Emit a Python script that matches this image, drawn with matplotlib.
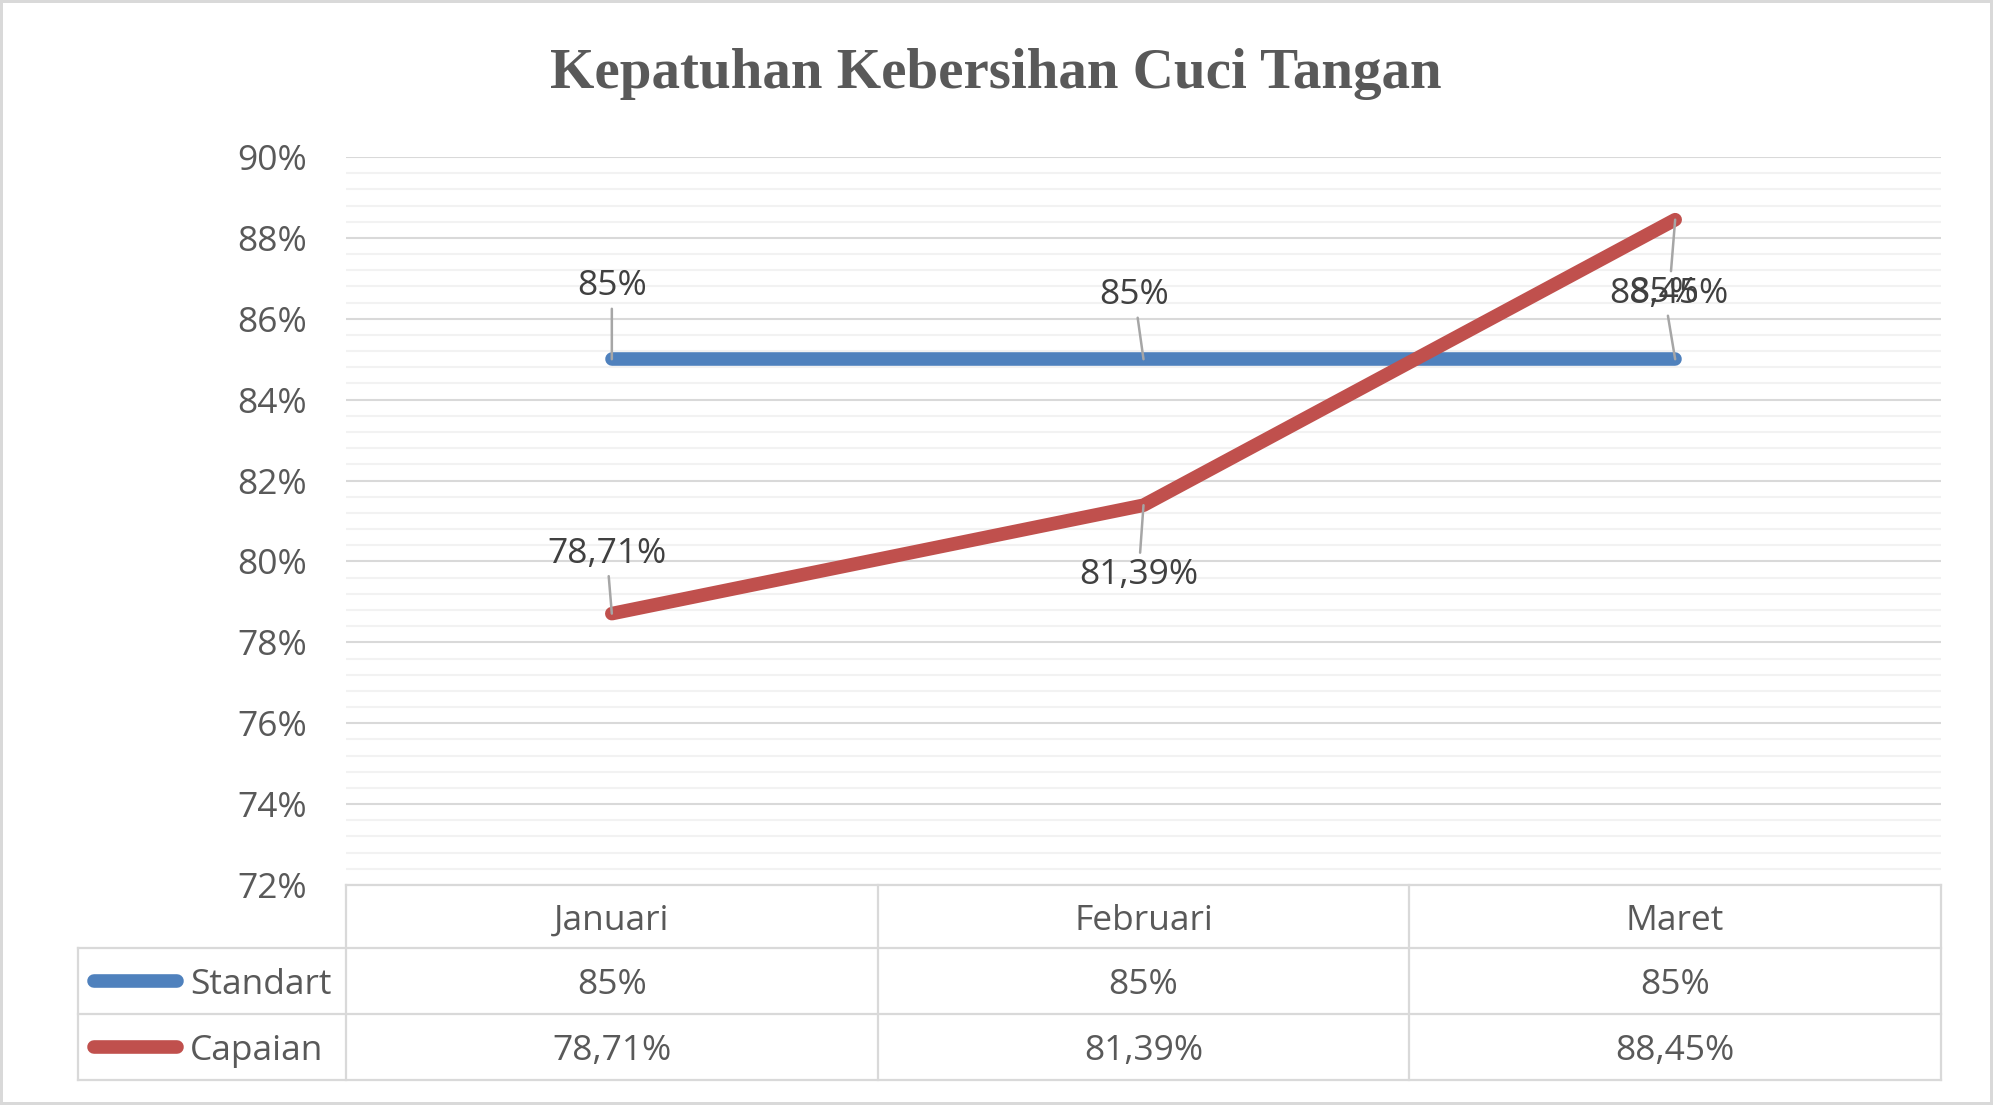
import matplotlib
matplotlib.use("Agg")
import matplotlib.pyplot as plt
from matplotlib.lines import Line2D
from matplotlib.patches import Rectangle
from matplotlib.ticker import FuncFormatter, MultipleLocator
import matplotlib.transforms as mtransforms

# Data
months = ["Januari", "Februari", "Maret"]
series_names = ["Standart", "Capaian"]
standart = [85, 85, 85]
capaian = [78.71, 81.39, 88.45]
title = "Kepatuhan Kebersihan Cuci Tangan"

colours = {"Standart": "#4F81BD", "Capaian": "#C0504D"}
W, H = 1993, 1105
grey_text = "#595959"
label_text = "#404040"
grid_major = "#D9D9D9"
grid_minor = "#F2F2F2"
FS = 25.5

plt.rcParams["font.family"] = ["Open Sans", "DejaVu Sans"]


def fmt_pct(v):
    if float(v).is_integer():
        return "%d%%" % v
    return ("%.2f%%" % v).replace(".", ",")


def fx(x):
    return x / W


def fy(y):
    return 1 - y / H


fig = plt.figure(figsize=(W / 100, H / 100), dpi=100)
fig.patch.set_facecolor("white")

# plot area (pixel box 346..1941 x 157..885)
ax = fig.add_axes([fx(346), fy(885), fx(1941 - 346), (885 - 157) / H])
xs = list(range(len(months)))

ax.plot(xs, standart, color=colours["Standart"], lw=9.8, solid_capstyle="round", zorder=3)
ax.plot(xs, capaian, color=colours["Capaian"], lw=9.8, solid_capstyle="round", zorder=3)

ax.set_xlim(-0.5, len(months) - 0.5)
ax.set_ylim(72, 90)
ax.yaxis.set_major_locator(MultipleLocator(2))
ax.yaxis.set_minor_locator(MultipleLocator(0.4))
ax.yaxis.set_major_formatter(FuncFormatter(lambda v, p: "%d%%" % round(v)))
ax.grid(axis="y", which="major", color=grid_major, lw=1.5, zorder=0)
ax.grid(axis="y", which="minor", color=grid_minor, lw=1.5, zorder=0)
ax.set_axisbelow(True)
ax.set_xticks([])
ax.tick_params(axis="y", which="both", length=0, pad=28, labelsize=FS, labelcolor=grey_text)
for lab in ax.get_yticklabels():
    lab.set_y(lab.get_position()[1])
for s in ax.spines.values():
    s.set_visible(False)

# data labels with leader lines (offsets in pixels)
std_offsets = [(0, 73), (-9, 64), (-11, 66)]
cap_offsets = [(-5, 60), (-5, -70), (-6, -74)]
leader = dict(arrowstyle="-", color="#A6A6A6", lw=1.8, shrinkA=2, shrinkB=0)
for x, v, off in zip(xs, standart, std_offsets):
    ax.annotate(fmt_pct(v), (x, v), xytext=off, textcoords="offset pixels",
                ha="center", va="center", fontsize=FS, color=label_text,
                arrowprops=leader, zorder=4)
for x, v, off in zip(xs, capaian, cap_offsets):
    ax.annotate(fmt_pct(v), (x, v), xytext=off, textcoords="offset pixels",
                ha="center", va="center", fontsize=FS, color=label_text,
                arrowprops=leader, zorder=4)

# title
fig.text(fx(996), fy(74), title, ha="center", va="center", fontsize=41,
         fontweight="bold", family="Liberation Serif", color=grey_text)

# data table below the plot
tr = mtransforms.blended_transform_factory(ax.transData, fig.transFigure)
row_tops = [885, 948, 1014, 1080]
left_tab, x0, x1 = 78, 346, 1941
dy = 4  # text sits slightly below the cell centre


def hline(y, xa, xb):
    fig.add_artist(Line2D([fx(xa), fx(xb)], [fy(y), fy(y)], color=grid_major, lw=1.6,
                          transform=fig.transFigure))


def vline(x, ya, yb):
    fig.add_artist(Line2D([fx(x), fx(x)], [fy(ya), fy(yb)], color=grid_major, lw=1.6,
                          transform=fig.transFigure))


hline(row_tops[0], x0, x1)
for y in row_tops[1:]:
    hline(y, left_tab, x1)
vline(left_tab, row_tops[1], row_tops[3])
col_w = (x1 - x0) / len(months)
for i in range(len(months) + 1):
    vline(x0 + i * col_w, row_tops[0], row_tops[3])

for x, m in zip(xs, months):
    fig.text(x, fy((row_tops[0] + row_tops[1]) / 2 + dy), m, transform=tr,
             ha="center", va="center", fontsize=FS, color=grey_text)

rows = [("Standart", standart), ("Capaian", capaian)]
for r, (name, vals) in enumerate(rows):
    yc_px = (row_tops[r + 1] + row_tops[r + 2]) / 2
    for x, v in zip(xs, vals):
        fig.text(x, fy(yc_px + dy), fmt_pct(v), transform=tr, ha="center", va="center",
                 fontsize=FS, color=grey_text)
    fig.add_artist(Line2D([fx(94), fx(177)], [fy(yc_px), fy(yc_px)], color=colours[name],
                          lw=9.8, solid_capstyle="round", transform=fig.transFigure))
    fig.text(fx(190), fy(yc_px + dy), name, ha="left", va="center", fontsize=FS,
             color=grey_text)

# outer frame
fig.add_artist(Rectangle((0, 0), 1, 1, transform=fig.transFigure, fill=False,
                         edgecolor=grid_major, lw=4.3))

fig.savefig("out.png", dpi=100)
